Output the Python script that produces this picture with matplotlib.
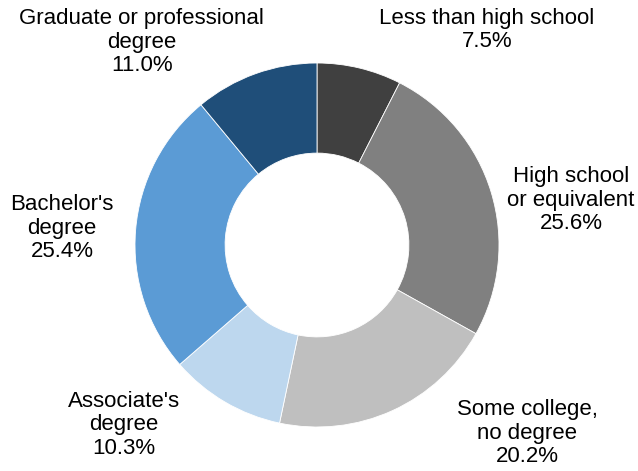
import matplotlib.pyplot as plt

plt.rcParams['font.family'] = ['Liberation Sans', 'DejaVu Sans']

categories = ['Less than high school', 'High school\nor equivalent', 'Some college,\nno degree',
              "Associate's\ndegree", "Bachelor's\ndegree", 'Graduate or professional\ndegree']
shares = [7.5, 25.6, 20.2, 10.3, 25.4, 11.0]
colors = ['#404040', '#808080', '#bfbfbf', '#bdd7ee', '#5b9bd5', '#1f4e79']

# label centres in data units (pie radius = 1)
label_pos = [(0.934, 1.181), (1.396, 0.247), (1.156, -1.033),
             (-1.060, -0.989), (-1.401, 0.093), (-0.962, 1.115)]

fig = plt.figure(figsize=(6.38, 4.71), dpi=100)
ax = fig.add_axes([0, 0, 1, 1])
ax.pie(shares, colors=colors, startangle=90, counterclock=False, radius=1,
       wedgeprops=dict(width=0.495, edgecolor='white', linewidth=0.6))

for cat, val, (x, y) in zip(categories, shares, label_pos):
    ax.text(x, y, '{}\n{:.1f}%'.format(cat, val), ha='center', va='center',
            fontsize=16, color='black', linespacing=1.13)

ax.set_xlim(-317 / 182, (638 - 317) / 182)
ax.set_ylim(-(471 - 245) / 182, 245 / 182)
ax.set_aspect('auto')
ax.axis('off')

fig.savefig('out.png', dpi=100)
